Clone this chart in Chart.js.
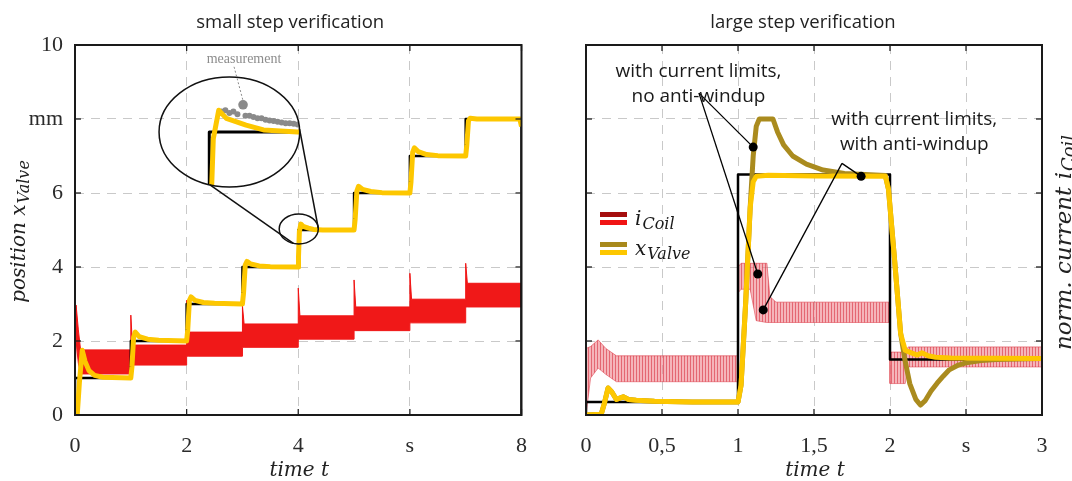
<!DOCTYPE html>
<html><head><meta charset="utf-8">
<script src="https://cdn.jsdelivr.net/npm/chart.js@4"></script>
<style>
html,body{margin:0;padding:0;background:#fff;width:1072px;height:481px;overflow:hidden;}
#c1{position:absolute;left:0;top:0;}
#c2{position:absolute;left:540px;top:0;}
</style></head><body>
<canvas id="c1" width="545" height="481"></canvas>
<canvas id="c2" width="532" height="481"></canvas>
<script>
// ---------- small step verification (left) ----------
const smallRef = [[0,0],[0,1],[1,1],[1,2],[2,2],[2,3],[3,3],[3,4],[4,4],[4,5],[5,5],[5,6],[6,6],[6,7],[7,7],[7,8],[8,8],[8,0]];
const smallPos = [[0,0],[0.04,0],[0.08,0.9],[0.13,1.75],[0.18,1.45],[0.25,1.2],[0.35,1.07],[0.5,1.02],[1.0,1.0],
 [1.02,1.3],[1.05,2.1],[1.08,2.24],[1.15,2.12],[1.3,2.05],[1.5,2.02],[2.0,2.0],
 [2.02,2.3],[2.05,3.1],[2.08,3.19],[2.15,3.1],[2.3,3.04],[2.5,3.02],[3.0,3.0],
 [3.02,3.3],[3.05,4.05],[3.08,4.15],[3.15,4.08],[3.3,4.03],[3.5,4.01],[4.0,4.0],
 [4.005,4.3],[4.02,4.95],[4.047,5.16],[4.085,5.1],[4.183,5.05],[4.27,5.015],[4.44,5.0],[5.0,5.0],
 [5.02,5.3],[5.05,6.05],[5.08,6.18],[5.15,6.1],[5.3,6.04],[5.5,6.01],[6.0,6.0],
 [6.02,6.3],[6.05,7.1],[6.08,7.22],[6.15,7.12],[6.3,7.04],[6.5,7.01],[7.0,7.0],
 [7.02,7.3],[7.05,7.95],[7.08,8.02],[7.2,8.0],[7.97,8.0],[8.0,7.8]];
// [t, lower, upper] envelope of the oscillating coil current
const smallCoilBand = [[0,0.9,2.2],[0.02,2.0,2.97],[0.06,1.4,2.3],[0.1,1.11,1.76],[1.0,1.11,1.76],
 [1.0,1.35,2.7],[1.03,1.35,1.89],[2.0,1.35,1.89],
 [2.0,1.59,3.1],[2.03,1.59,2.24],[3.0,1.59,2.24],
 [3.0,1.83,2.95],[3.03,1.83,2.46],[4.0,1.83,2.46],
 [4.0,2.05,3.43],[4.03,2.05,2.68],[5.0,2.05,2.68],
 [5.0,2.28,3.65],[5.03,2.28,2.92],[6.0,2.28,2.92],
 [6.0,2.49,3.83],[6.03,2.49,3.13],[7.0,2.49,3.13],
 [7.0,2.92,4.1],[7.03,2.92,3.56],[8.0,2.92,3.56]];
const insetMeasurement = [[4.06,5.15],[4.08,5.16],[4.10,5.14],[4.12,5.15],[4.14,5.13],[4.168,5.2],[4.18,5.12],[4.20,5.12],[4.22,5.11],[4.24,5.1],[4.26,5.1],[4.28,5.09],[4.30,5.085],[4.32,5.08],[4.34,5.075],[4.36,5.07],[4.38,5.065],[4.40,5.065],[4.42,5.06],[4.44,5.055]];
const smallXTickLabels = ['0','2','4','s','8'];
const smallYTickLabels = ['0','2','4','6','mm','10'];

// ---------- large step verification (right) ----------
const largeRef = [[0,0],[0,0.35],[1,0.35],[1,6.5],[2,6.5],[2,1.5],[3,1.5]];
const largePosAW = [[0,0],[0.1,0.02],[0.12,0.3],[0.145,0.73],[0.17,0.62],[0.2,0.42],[0.245,0.49],[0.28,0.42],[0.33,0.4],[0.45,0.37],[0.7,0.35],[1.0,0.35],
 [1.02,0.8],[1.05,3.0],[1.08,5.6],[1.1,6.3],[1.12,6.45],[1.2,6.48],[1.5,6.46],[1.97,6.45],[1.99,6.1],[2.03,4.2],[2.07,2.2],[2.1,1.75],[2.14,1.68],[2.18,1.62],[2.21,1.68],[2.25,1.6],[2.3,1.56],[2.4,1.54],[3.0,1.53]];
const largePosNoAW = [[0,0],[0.1,0.02],[0.12,0.3],[0.145,0.73],[0.17,0.62],[0.2,0.42],[0.245,0.49],[0.28,0.42],[0.33,0.4],[0.45,0.37],[0.7,0.35],[1.0,0.35],
 [1.02,0.8],[1.05,3.0],[1.08,5.6],[1.1,7.0],[1.12,7.8],[1.14,8.0],[1.23,8.0],[1.26,7.65],[1.3,7.3],[1.36,7.0],[1.45,6.78],[1.56,6.62],[1.7,6.53],[1.97,6.47],
 [1.99,6.1],[2.03,4.2],[2.07,2.2],[2.1,1.45],[2.13,0.85],[2.17,0.42],[2.2,0.27],[2.23,0.38],[2.27,0.65],[2.31,0.86],[2.35,1.05],[2.39,1.22],[2.45,1.35],[2.5,1.41],[2.6,1.47],[2.7,1.5],[3.0,1.53]];
const largeCoilBand = [[0,0,1.8],[0.03,1.0,1.85],[0.08,1.27,2.03],[0.13,1.1,1.8],[0.2,0.9,1.6],[1.0,0.9,1.6],
 [1.0,3.3,4.0],[1.02,3.4,4.1],[1.08,3.4,4.1],[1.12,2.55,4.1],[1.19,2.5,4.1],[1.21,2.5,3.2],[1.25,2.5,3.05],[2.0,2.5,3.05],
 [2.0,0.85,1.7],[2.1,0.85,1.7],[2.12,1.3,1.84],[3.0,1.3,1.84]];
const largeXTickLabels = ['0','0,5','1','1,5','2','s','3'];

// ---------- helpers ----------
const pts = a => a.map(p => ({x:p[0], y:p[1]}));
const lowerOf = a => a.map(p => ({x:p[0], y:p[1]}));
const upperOf = a => a.map(p => ({x:p[0], y:p[2]}));
const X = (ch,t) => ch.scales.x.getPixelForValue(t);
const Y = (ch,v) => ch.scales.y.getPixelForValue(v);
const SERIF_I = px => `italic ${px}px "DejaVu Serif"`;
const SANS = px => `${px}px "Open Sans"`;

function stripePattern(){
  const c=document.createElement('canvas');c.width=3;c.height=4;
  const g=c.getContext('2d');
  g.fillStyle='rgba(236,120,130,0.55)';g.fillRect(0,0,3,4);
  g.fillStyle='rgba(215,40,55,0.55)';g.fillRect(0,0,1,4);
  return g.createPattern(c,'repeat');
}

function line(ctx,x1,y1,x2,y2){ctx.beginPath();ctx.moveTo(x1,y1);ctx.lineTo(x2,y2);ctx.stroke();}
function subWidth(ctx, main, sub, mp, sp){ctx.font=SERIF_I(mp);const w1=ctx.measureText(main).width;ctx.font=SERIF_I(sp);return w1+ctx.measureText(sub).width;}
function subText(ctx, x, y, main, sub, mp, sp, drop){
  ctx.textAlign='left';ctx.textBaseline='alphabetic';
  ctx.font=SERIF_I(mp);ctx.fillText(main,x,y);const w=ctx.measureText(main).width;
  ctx.font=SERIF_I(sp);ctx.fillText(sub,x+w+1,y+drop);
}

const framePlugin = {
  id:'frame',
  afterDatasetsDraw(ch){
    const ctx=ch.ctx, a=ch.chartArea;
    ctx.save();
    ctx.strokeStyle='#222';ctx.lineWidth=1.3;
    ch.scales.x.ticks.forEach(tk=>{const x=X(ch,tk.value);line(ctx,x,a.bottom,x,a.bottom-6);line(ctx,x,a.top,x,a.top+6);});
    ch.scales.y.ticks.forEach(tk=>{const y=Y(ch,tk.value);line(ctx,a.left,y,a.left+6,y);line(ctx,a.right,y,a.right-6,y);});
    ctx.lineWidth=2;ctx.strokeStyle='#1a1a1a';
    ctx.strokeRect(a.left,a.top,a.right-a.left,a.bottom-a.top);
    ctx.restore();
  }
};

const labelsPlugin = {
  id:'labels',
  afterDraw(ch,args,o){
    const ctx=ch.ctx,a=ch.chartArea;
    ctx.save();ctx.fillStyle='#222';
    ctx.font=SANS(18.5);ctx.textAlign='center';ctx.textBaseline='alphabetic';
    ctx.fillText(o.title,(a.left+a.right)/2+o.titleShift,28);
    ctx.font=SERIF_I(20);ctx.fillText('time t',(a.left+a.right)/2+1,476);
    if(o.yTitle){
      const yt=o.yTitle;
      ctx.save();ctx.translate(yt.x,(a.top+a.bottom)/2+yt.dy);ctx.rotate(-Math.PI/2);
      const w=subWidth(ctx,yt.main,yt.sub,yt.mp,yt.sp);
      subText(ctx,-w/2,0,yt.main,yt.sub,yt.mp,yt.sp,4);
      ctx.restore();
    }
    ctx.restore();
  }
};

const insetPlugin = {
  id:'inset',
  afterDatasetsDraw(ch,args,o){
    if(!o.big) return;
    const ctx=ch.ctx;
    const bx=X(ch,o.big[0]), by=Y(ch,o.big[1]);
    const brx=X(ch,o.big[0]+o.big[2])-bx, bry=by-Y(ch,o.big[1]+o.big[3]);
    const sx=X(ch,o.small[0]), sy=Y(ch,o.small[1]);
    const srx=X(ch,o.small[0]+o.small[2])-sx, sry=sy-Y(ch,o.small[1]+o.small[3]);
    const mx=brx/srx, my=bry/sry;
    const fx=X(ch,o.focus[0]), fy=Y(ch,o.focus[1]);
    const map=(t,v)=>[bx+(X(ch,t)-fx)*mx, by+(Y(ch,v)-fy)*my];
    ctx.save();
    ctx.beginPath();ctx.ellipse(bx,by,brx,bry,0,0,Math.PI*2);ctx.clip();
    ctx.lineJoin='round';ctx.lineCap='butt';
    ctx.strokeStyle='#000';ctx.lineWidth=3;
    ctx.beginPath();smallRef.forEach((p,i)=>{const q=map(p[0],p[1]);i?ctx.lineTo(q[0],q[1]):ctx.moveTo(q[0],q[1]);});ctx.stroke();
    ctx.fillStyle='#8a8a8a';
    insetMeasurement.forEach((p,i)=>{const q=map(p[0],p[1]);ctx.beginPath();ctx.arc(q[0],q[1],i===o.markIndex?4.8:3,0,Math.PI*2);ctx.fill();});
    ctx.strokeStyle='#fdc700';ctx.lineWidth=5;
    ctx.beginPath();smallPos.forEach((p,i)=>{const q=map(p[0],p[1]);i?ctx.lineTo(q[0],q[1]):ctx.moveTo(q[0],q[1]);});ctx.stroke();
    ctx.restore();
    ctx.save();ctx.strokeStyle='#111';ctx.lineWidth=1.5;
    ctx.beginPath();ctx.ellipse(bx,by,brx,bry,0,0,Math.PI*2);ctx.stroke();
    ctx.beginPath();ctx.ellipse(sx,sy,srx,sry,0,0,Math.PI*2);ctx.stroke();
    o.connect.forEach(deg=>{const r=deg*Math.PI/180;
      line(ctx,bx+brx*Math.cos(r),by+bry*Math.sin(r),sx+srx*Math.cos(r),sy+sry*Math.sin(r));});
    const m=map(insetMeasurement[o.markIndex][0],insetMeasurement[o.markIndex][1]);
    ctx.strokeStyle='#8a8a8a';ctx.lineWidth=1;ctx.setLineDash([2,2]);
    line(ctx,m[0]-9,m[1]-38,m[0],m[1]-4);ctx.setLineDash([]);
    ctx.fillStyle='#8c8c8c';ctx.font='14px "Liberation Serif"';ctx.textAlign='center';ctx.textBaseline='alphabetic';
    ctx.fillText('measurement',m[0]+1,m[1]-42);
    ctx.restore();
  }
};

const notePlugin = {
  id:'notes',
  afterDatasetsDraw(ch,args,o){
    if(!o.groups) return;
    const ctx=ch.ctx;
    ctx.save();
    o.groups.forEach(g=>{
      const ax=X(ch,g.apex[0]), ay=Y(ch,g.apex[1]);
      ctx.strokeStyle='#000';ctx.lineWidth=1.3;
      g.targets.forEach(t=>line(ctx,ax,ay,X(ch,t[0]),Y(ch,t[1])));
      ctx.fillStyle='#000';
      g.targets.forEach(t=>{ctx.beginPath();ctx.arc(X(ch,t[0]),Y(ch,t[1]),4.5,0,Math.PI*2);ctx.fill();});
      ctx.fillStyle='#1a1a1a';ctx.font=SANS(19);ctx.textAlign='center';ctx.textBaseline='alphabetic';
      const tx=X(ch,g.at[0]), ty=Y(ch,g.at[1]);
      g.lines.forEach((s,i)=>ctx.fillText(s,tx,ty+i*25));
    });
    const a=ch.chartArea, L=o.legend;
    L.forEach((it,k)=>{
      const y0=a.top+167+k*30;
      ctx.fillStyle=it.dark;ctx.fillRect(a.left+14,y0,27,5);
      ctx.fillStyle=it.light;ctx.fillRect(a.left+14,y0+8,27,5);
      ctx.fillStyle='#1a1a1a';
      subText(ctx,a.left+49,y0+13,it.main,it.sub,20,16,4);
    });
    ctx.restore();
  }
};

function baseScales(xmin,xmax,step,xlabels,ylabels,yWidth){
  return {
    x:{type:'linear',min:xmin,max:xmax,
      afterFit(s){s.height=66;},
      ticks:{stepSize:step,autoSkip:false,maxRotation:0,padding:18,color:'#2b2b2b',
        font:{family:'Liberation Serif',size:22},callback:(v,i)=>xlabels[i]},
      grid:{color:'#c9c9c9',lineWidth:1,drawTicks:false},
      border:{display:false,dash:[9,7]}},
    y:{type:'linear',min:0,max:10,
      afterFit(s){s.width=yWidth;},
      ticks:{stepSize:2,padding:12,color:'#2b2b2b',display:!!ylabels,
        font:{family:'Liberation Serif',size:22},callback:(v,i)=>ylabels?ylabels[i]:''},
      grid:{color:'#c9c9c9',lineWidth:1,drawTicks:false},
      border:{display:false,dash:[9,7]}}
  };
}
const common = {responsive:false,animation:false,devicePixelRatio:1,
  elements:{point:{radius:0},line:{tension:0,borderJoinStyle:'round'}}};

new Chart(document.getElementById('c1'),{
  type:'line',
  data:{datasets:[
    {label:'x_Valve',data:pts(smallPos),borderColor:'#fdc700',borderWidth:5,fill:false},
    {label:'reference',data:pts(smallRef),borderColor:'#000',borderWidth:2.5,fill:false},
    {label:'i_Coil upper',data:upperOf(smallCoilBand),borderColor:'#f01414',borderWidth:1,backgroundColor:'#f01818',fill:'+1'},
    {label:'i_Coil lower',data:lowerOf(smallCoilBand),borderColor:'#f01414',borderWidth:1,fill:false}
  ]},
  options:Object.assign({},common,{
    layout:{padding:{left:0,top:45,right:13,bottom:0}},
    scales:baseScales(0,8,2,smallXTickLabels,smallYTickLabels,75),
    plugins:{legend:{display:false},tooltip:{enabled:false},
      inset:{big:[2.766,7.65,1.26,1.486],small:[4.009,5.03,0.35,0.405],focus:[4.1,5.0],connect:[106,-3],markIndex:5},
      labels:{title:'small step verification',titleShift:-8,
        yTitle:{x:25,dy:2,main:'position x',sub:'Valve',mp:20,sp:16}}}
  }),
  plugins:[insetPlugin,framePlugin,labelsPlugin]
});

new Chart(document.getElementById('c2'),{
  type:'line',
  data:{datasets:[
    {label:'x_Valve anti-windup',data:pts(largePosAW),borderColor:'#fdc700',borderWidth:5,fill:false},
    {label:'x_Valve no anti-windup',data:pts(largePosNoAW),borderColor:'#aa8b1e',borderWidth:5,fill:false},
    {label:'reference',data:pts(largeRef),borderColor:'#000',borderWidth:2.5,fill:false},
    {label:'i_Coil upper',data:upperOf(largeCoilBand),borderColor:'rgba(220,60,72,0.6)',borderWidth:1,backgroundColor:stripePattern(),fill:'+1'},
    {label:'i_Coil lower',data:lowerOf(largeCoilBand),borderColor:'rgba(220,60,72,0.6)',borderWidth:1,fill:false}
  ]},
  options:Object.assign({},common,{
    layout:{padding:{left:0,top:45,right:30,bottom:0}},
    scales:baseScales(0,3,0.5,largeXTickLabels,null,46),
    plugins:{legend:{display:false},tooltip:{enabled:false},
      notes:{groups:[
        {lines:['with current limits,','no anti-windup'],at:[0.74,9.135],apex:[0.743,8.7],targets:[[1.10,7.24],[1.13,3.81]]},
        {lines:['with current limits,','with anti-windup'],at:[2.16,7.84],apex:[1.684,6.8],targets:[[1.81,6.45],[1.166,2.84]]}],
        legend:[{dark:'#a50e0e',light:'#f01414',main:'i',sub:'Coil'},{dark:'#a8891c',light:'#fdc700',main:'x',sub:'Valve'}]},
      labels:{title:'large step verification',titleShift:-11,
        yTitle:{x:531,dy:13,main:'norm. current i',sub:'Coil',mp:23,sp:18}}}
  }),
  plugins:[notePlugin,framePlugin,labelsPlugin]
});
</script></body></html>
